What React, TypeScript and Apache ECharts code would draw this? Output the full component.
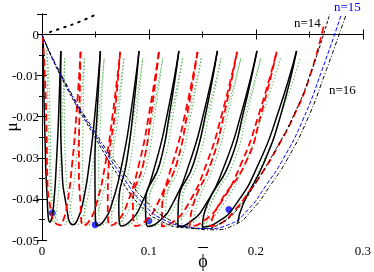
import React, { useEffect, useRef } from "react";
import * as echarts from "echarts";

type P = [number, number];

// Black solid loops (phi, mu)
const blackLoops: P[][] = [
  [[0.0012,-0.0012],[0.0016,-0.012],[0.0028,-0.025],[0.0045,-0.038],[0.0074,-0.0457],[0.0089,-0.0448],[0.011,-0.041],[0.0135,-0.031],[0.0156,-0.0193],[0.0176,-0.004]],
  [[0.0176,-0.004],[0.0174,-0.0193],[0.0185,-0.0312],[0.0225,-0.0413],[0.029,-0.0463],[0.0328,-0.0453],[0.038,-0.0412],[0.0444,-0.0311],[0.0495,-0.0193],[0.0546,-0.004]],
  [[0.0546,-0.004],[0.0515,-0.0193],[0.0495,-0.0312],[0.0497,-0.0413],[0.0515,-0.0465],[0.0574,-0.0455],[0.0652,-0.0413],[0.075,-0.0312],[0.0829,-0.0193],[0.0907,-0.004]],
  [[0.0907,-0.004],[0.085,-0.0193],[0.079,-0.0312],[0.0718,-0.0413],[0.074,-0.0466],[0.0821,-0.0455],[0.0929,-0.0413],[0.1064,-0.0312],[0.1172,-0.0193],[0.128,-0.004]],
  [[0.128,-0.004],[0.1192,-0.0193],[0.1104,-0.0312],[0.0968,-0.0413],[0.099,-0.0467],[0.1088,-0.0456],[0.1218,-0.0413],[0.138,-0.0312],[0.151,-0.0193],[0.164,-0.004]],
  [[0.164,-0.004],[0.153,-0.0193],[0.142,-0.0312],[0.1275,-0.0413],[0.127,-0.0468],[0.1381,-0.0457],[0.1529,-0.0414],[0.1714,-0.0313],[0.1862,-0.0193],[0.201,-0.004]],
  [[0.201,-0.004],[0.188,-0.0193],[0.1754,-0.0312],[0.1545,-0.0413],[0.15,-0.0469],[0.1632,-0.0458],[0.1808,-0.0415],[0.2028,-0.0313],[0.2204,-0.0193],[0.238,-0.004]],
  [[0.238,-0.004],[0.2235,-0.0193],[0.2075,-0.0312],[0.188,-0.0413],[0.183,-0.0458]],
];

// Red dashed loops
const redLoops: P[][] = [
  [[0.0008,-0.0006],[0.003,-0.012],[0.0043,-0.024],[0.005,-0.035],[0.008,-0.0425],[0.0115,-0.0455],[0.0167,-0.0464],[0.0196,-0.0454],[0.0235,-0.0413],[0.0283,-0.0312],[0.0322,-0.0193],[0.0361,-0.0042]],
  [[0.0361,-0.0042],[0.035,-0.0193],[0.0345,-0.0312],[0.036,-0.0413],[0.0388,-0.0465],[0.0439,-0.0455],[0.0508,-0.0413],[0.0594,-0.0312],[0.0662,-0.0193],[0.0731,-0.0042]],
  [[0.0731,-0.0042],[0.068,-0.0193],[0.0625,-0.0312],[0.0615,-0.0413],[0.0635,-0.0465],[0.0704,-0.0455],[0.0795,-0.0413],[0.091,-0.0312],[0.1001,-0.0193],[0.1093,-0.0042]],
  [[0.1093,-0.0042],[0.1021,-0.0193],[0.095,-0.0312],[0.085,-0.0413],[0.0875,-0.0466],[0.0962,-0.0455],[0.1078,-0.0413],[0.1222,-0.0312],[0.1338,-0.0193],[0.1454,-0.0042]],
  [[0.1454,-0.0042],[0.1358,-0.0193],[0.1262,-0.0312],[0.1125,-0.0413],[0.112,-0.0467],[0.1226,-0.0456],[0.1366,-0.0413],[0.1542,-0.0312],[0.1683,-0.0193],[0.1824,-0.0042]],
  [[0.1824,-0.0042],[0.1703,-0.0193],[0.1582,-0.0312],[0.1415,-0.0413],[0.138,-0.0468],[0.1494,-0.0457],[0.1658,-0.0414],[0.1864,-0.0313],[0.2029,-0.0193],[0.2194,-0.0042]],
  [[0.2194,-0.0042],[0.2049,-0.0193],[0.1904,-0.0312],[0.1655,-0.0413],[0.157,-0.0466],[0.167,-0.046],[0.18,-0.0428],[0.193,-0.0385],[0.205,-0.034],[0.22,-0.0275],[0.236,-0.0195],[0.25,-0.0105],[0.2636,0.0023]],
];

// Green dotted loops
const greenLoops: P[][] = [
  [[0.0045,-0.003],[0.0051,-0.012],[0.0063,-0.025],[0.008,-0.038],[0.0109,-0.0457],[0.0124,-0.0448],[0.0145,-0.041],[0.017,-0.031],[0.0191,-0.0193],[0.0211,-0.0058]],
  [[0.0211,-0.0058],[0.0209,-0.0193],[0.022,-0.0312],[0.026,-0.0413],[0.0325,-0.0463],[0.0363,-0.0453],[0.0415,-0.0412],[0.0479,-0.0311],[0.053,-0.0193],[0.0581,-0.0058]],
  [[0.0581,-0.0058],[0.055,-0.0193],[0.053,-0.0312],[0.0532,-0.0413],[0.055,-0.0465],[0.0608,-0.0455],[0.0685,-0.0413],[0.0782,-0.0312],[0.0863,-0.0193],[0.0942,-0.0058]],
  [[0.0942,-0.0058],[0.0885,-0.0193],[0.0825,-0.0312],[0.0753,-0.0413],[0.0775,-0.0466],[0.0856,-0.0455],[0.0964,-0.0413],[0.1099,-0.0312],[0.1207,-0.0193],[0.1315,-0.0058]],
  [[0.1315,-0.0058],[0.1227,-0.0193],[0.1139,-0.0312],[0.1003,-0.0413],[0.1025,-0.0467],[0.1123,-0.0456],[0.1253,-0.0413],[0.1415,-0.0312],[0.1545,-0.0193],[0.1675,-0.0058]],
  [[0.1675,-0.0058],[0.1565,-0.0193],[0.1455,-0.0312],[0.131,-0.0413],[0.1305,-0.0468],[0.1416,-0.0457],[0.1564,-0.0414],[0.1749,-0.0313],[0.1897,-0.0193],[0.2045,-0.0058]],
  [[0.2045,-0.0058],[0.1915,-0.0193],[0.1789,-0.0312],[0.158,-0.0413],[0.1535,-0.0469],[0.1667,-0.0458],[0.1843,-0.0415],[0.2063,-0.0313],[0.2239,-0.0193],[0.2415,-0.0058]],
  [[0.0043,-0.003],[0.0065,-0.012],[0.0078,-0.024],[0.0085,-0.035],[0.0115,-0.0425],[0.015,-0.0455],[0.0202,-0.0464],[0.0231,-0.0454],[0.027,-0.0413],[0.0318,-0.0312],[0.0357,-0.0193],[0.0396,-0.0058]],
  [[0.0396,-0.0058],[0.0385,-0.0193],[0.038,-0.0312],[0.0395,-0.0413],[0.0423,-0.0465],[0.0474,-0.0455],[0.0543,-0.0413],[0.0629,-0.0312],[0.0697,-0.0193],[0.0766,-0.0058]],
  [[0.0766,-0.0058],[0.0715,-0.0193],[0.066,-0.0312],[0.065,-0.0413],[0.067,-0.0465],[0.0739,-0.0455],[0.083,-0.0413],[0.0945,-0.0312],[0.1036,-0.0193],[0.1128,-0.0058]],
  [[0.1128,-0.0058],[0.1056,-0.0193],[0.0985,-0.0312],[0.0885,-0.0413],[0.091,-0.0466],[0.0997,-0.0455],[0.1113,-0.0413],[0.1257,-0.0312],[0.1373,-0.0193],[0.1489,-0.0058]],
  [[0.1489,-0.0058],[0.1393,-0.0193],[0.1297,-0.0312],[0.116,-0.0413],[0.1155,-0.0467],[0.1261,-0.0456],[0.1401,-0.0413],[0.1577,-0.0312],[0.1718,-0.0193],[0.1859,-0.0058]],
  [[0.1859,-0.0058],[0.1738,-0.0193],[0.1617,-0.0312],[0.145,-0.0413],[0.1415,-0.0468],[0.1529,-0.0457],[0.1693,-0.0414],[0.1899,-0.0313],[0.2064,-0.0193],[0.2229,-0.0058]],
];

// Envelope curves for n = 14, 15, 16
const curveN14: P[] = [[0,0],[0.018,-0.0104],[0.05,-0.0252],[0.073,-0.035],[0.094,-0.0422],[0.112,-0.0455],[0.132,-0.047],[0.15,-0.0472],[0.168,-0.0458],[0.185,-0.0418],[0.2,-0.036],[0.218,-0.0282],[0.236,-0.0193],[0.2515,-0.0092],[0.269,0.005]];
const curveN15: P[] = [[0,0],[0.018,-0.0101],[0.05,-0.0245],[0.075,-0.0345],[0.097,-0.0418],[0.115,-0.0452],[0.137,-0.0468],[0.155,-0.0472],[0.175,-0.0462],[0.193,-0.0425],[0.21,-0.0365],[0.225,-0.0305],[0.2435,-0.021],[0.262,-0.0085],[0.28,0.005]];
const curveN16: P[] = [[0,0],[0.018,-0.0098],[0.05,-0.0239],[0.077,-0.034],[0.1,-0.0413],[0.12,-0.0452],[0.14,-0.0471],[0.16,-0.0475],[0.18,-0.0463],[0.197,-0.0425],[0.214,-0.0365],[0.229,-0.0305],[0.2475,-0.021],[0.266,-0.0085],[0.2845,0.005]];

// Black dotted line near the top-left
const dottedTop: P[] = [[0.0074,0.0006],[0.02,0.0017],[0.035,0.0031],[0.049,0.0047]];

// Blue points
const bluePoints: P[] = [[0.0096,-0.0434],[0.0497,-0.0463],[0.1,-0.0453],[0.1747,-0.0426]];

const xTicks = [0, 0.1, 0.2, 0.3];
const yTickLabels = ["-0.05", "-0.04", "-0.03", "-0.02", "-0.01", "0"];

const FONT = '"Liberation Serif", "Times New Roman", serif';

export default function App() {
  const ref = useRef<HTMLDivElement>(null);
  useEffect(() => {
    if (!ref.current) return;
    const chart = echarts.init(ref.current, undefined, { renderer: "svg" });
    const series: any[] = [];
    const SM = 0.55;
    greenLoops.forEach((d) =>
      series.push({
        type: "line", data: d, smooth: SM, symbol: "none", silent: true,
        lineStyle: { color: "#52b452", width: 1.1, type: [1.2, 2.2] },
      })
    );
    blackLoops.forEach((d) =>
      series.push({
        type: "line", data: d, smooth: SM, symbol: "none", silent: true,
        lineStyle: { color: "#000", width: 1.5 },
      })
    );
    redLoops.forEach((d) =>
      series.push({
        type: "line", data: d, smooth: SM, symbol: "none", silent: true,
        lineStyle: { color: "#ff0000", width: 1.8, type: [7, 4] },
      })
    );
    series.push({
      type: "line", data: curveN14, smooth: SM, symbol: "none",
      lineStyle: { color: "#000", width: 1, type: [3, 2] },
    });
    series.push({
      type: "line", data: curveN15, smooth: SM, symbol: "none",
      lineStyle: { color: "#0000ff", width: 1, type: [4, 2] },
    });
    series.push({
      type: "line", data: curveN16, smooth: SM, symbol: "none",
      lineStyle: { color: "#000", width: 1, type: [4, 2, 1, 2] },
    });
    series.push({
      type: "line", data: dottedTop, smooth: SM, symbol: "none",
      lineStyle: { color: "#000", width: 2, type: [1.5, 6], cap: "round" },
    });
    series.push({
      type: "scatter", data: bluePoints, symbol: "circle", symbolSize: 7,
      itemStyle: { color: "#0000ff" },
    });

    const xFmt = (v: number) => {
      const m = xTicks.find((t) => Math.abs(t - v) < 1e-9);
      return m === undefined ? "" : String(m);
    };
    const yFmt = (v: number) => {
      const r = Math.round(v * 100);
      if (Math.abs(v * 100 - r) > 1e-6) return "";
      return yTickLabels[r + 5] ?? "";
    };
    const tickCommon = { inside: true, length: 5, lineStyle: { color: "#000" } };
    const minorCommon = { show: true, splitNumber: 2, length: 3, lineStyle: { color: "#000" } };
    const lineCommon = { show: true, lineStyle: { color: "#000", width: 1 } };
    const labelCommon = { color: "#000", fontFamily: FONT, fontSize: 13 };

    chart.setOption({
      animation: false,
      grid: { left: 42, right: 8, top: 14, bottom: 32 },
      xAxis: [
        {
          type: "value", position: "bottom", min: 0, max: 0.3, interval: 0.1,
          axisLine: lineCommon, axisTick: tickCommon, minorTick: minorCommon,
          splitLine: { show: false },
          axisLabel: { ...labelCommon, margin: 4, formatter: xFmt },
        },
        {
          type: "value", position: "top", min: 0, max: 0.3, interval: 0.1,
          axisLine: lineCommon, axisTick: tickCommon, minorTick: minorCommon,
          splitLine: { show: false }, axisLabel: { show: false },
        },
      ],
      yAxis: [
        {
          type: "value", position: "left", min: -0.05, max: 0.005, interval: 0.01,
          axisLine: lineCommon, axisTick: tickCommon, minorTick: minorCommon,
          splitLine: { show: false },
          axisLabel: { ...labelCommon, margin: 3, formatter: yFmt },
        },
        {
          type: "value", position: "right", min: -0.05, max: 0.005, interval: 0.01,
          axisLine: lineCommon, axisTick: tickCommon, minorTick: minorCommon,
          splitLine: { show: false }, axisLabel: { show: false },
        },
      ],
      graphic: [
        { type: "text", left: 294, top: 16, style: { text: "n=14", fill: "#000", font: `13px ${FONT}` } },
        { type: "text", left: 334, top: 0, style: { text: "n=15", fill: "#0000ff", font: `13px ${FONT}` } },
        { type: "text", left: 329, top: 83, style: { text: "n=16", fill: "#000", font: `13px ${FONT}` } },
        {
          type: "text", x: 11, y: 127, rotation: Math.PI / 2,
          style: { text: "μ", fill: "#000", font: `17px ${FONT}`, align: "center", verticalAlign: "middle" },
        },
        {
          type: "text", x: 203, y: 261,
          style: { text: "ϕ", fill: "#000", font: `18px ${FONT}`, align: "center", verticalAlign: "middle" },
        },
        { type: "line", shape: { x1: 198, y1: 247.5, x2: 208, y2: 247.5 }, style: { stroke: "#000", lineWidth: 1 } },
      ],
      series,
    });
    return () => chart.dispose();
  }, []);
  return <div ref={ref} style={{ position: "fixed", left: 0, top: 0, width: 374, height: 272 }} />;
}
